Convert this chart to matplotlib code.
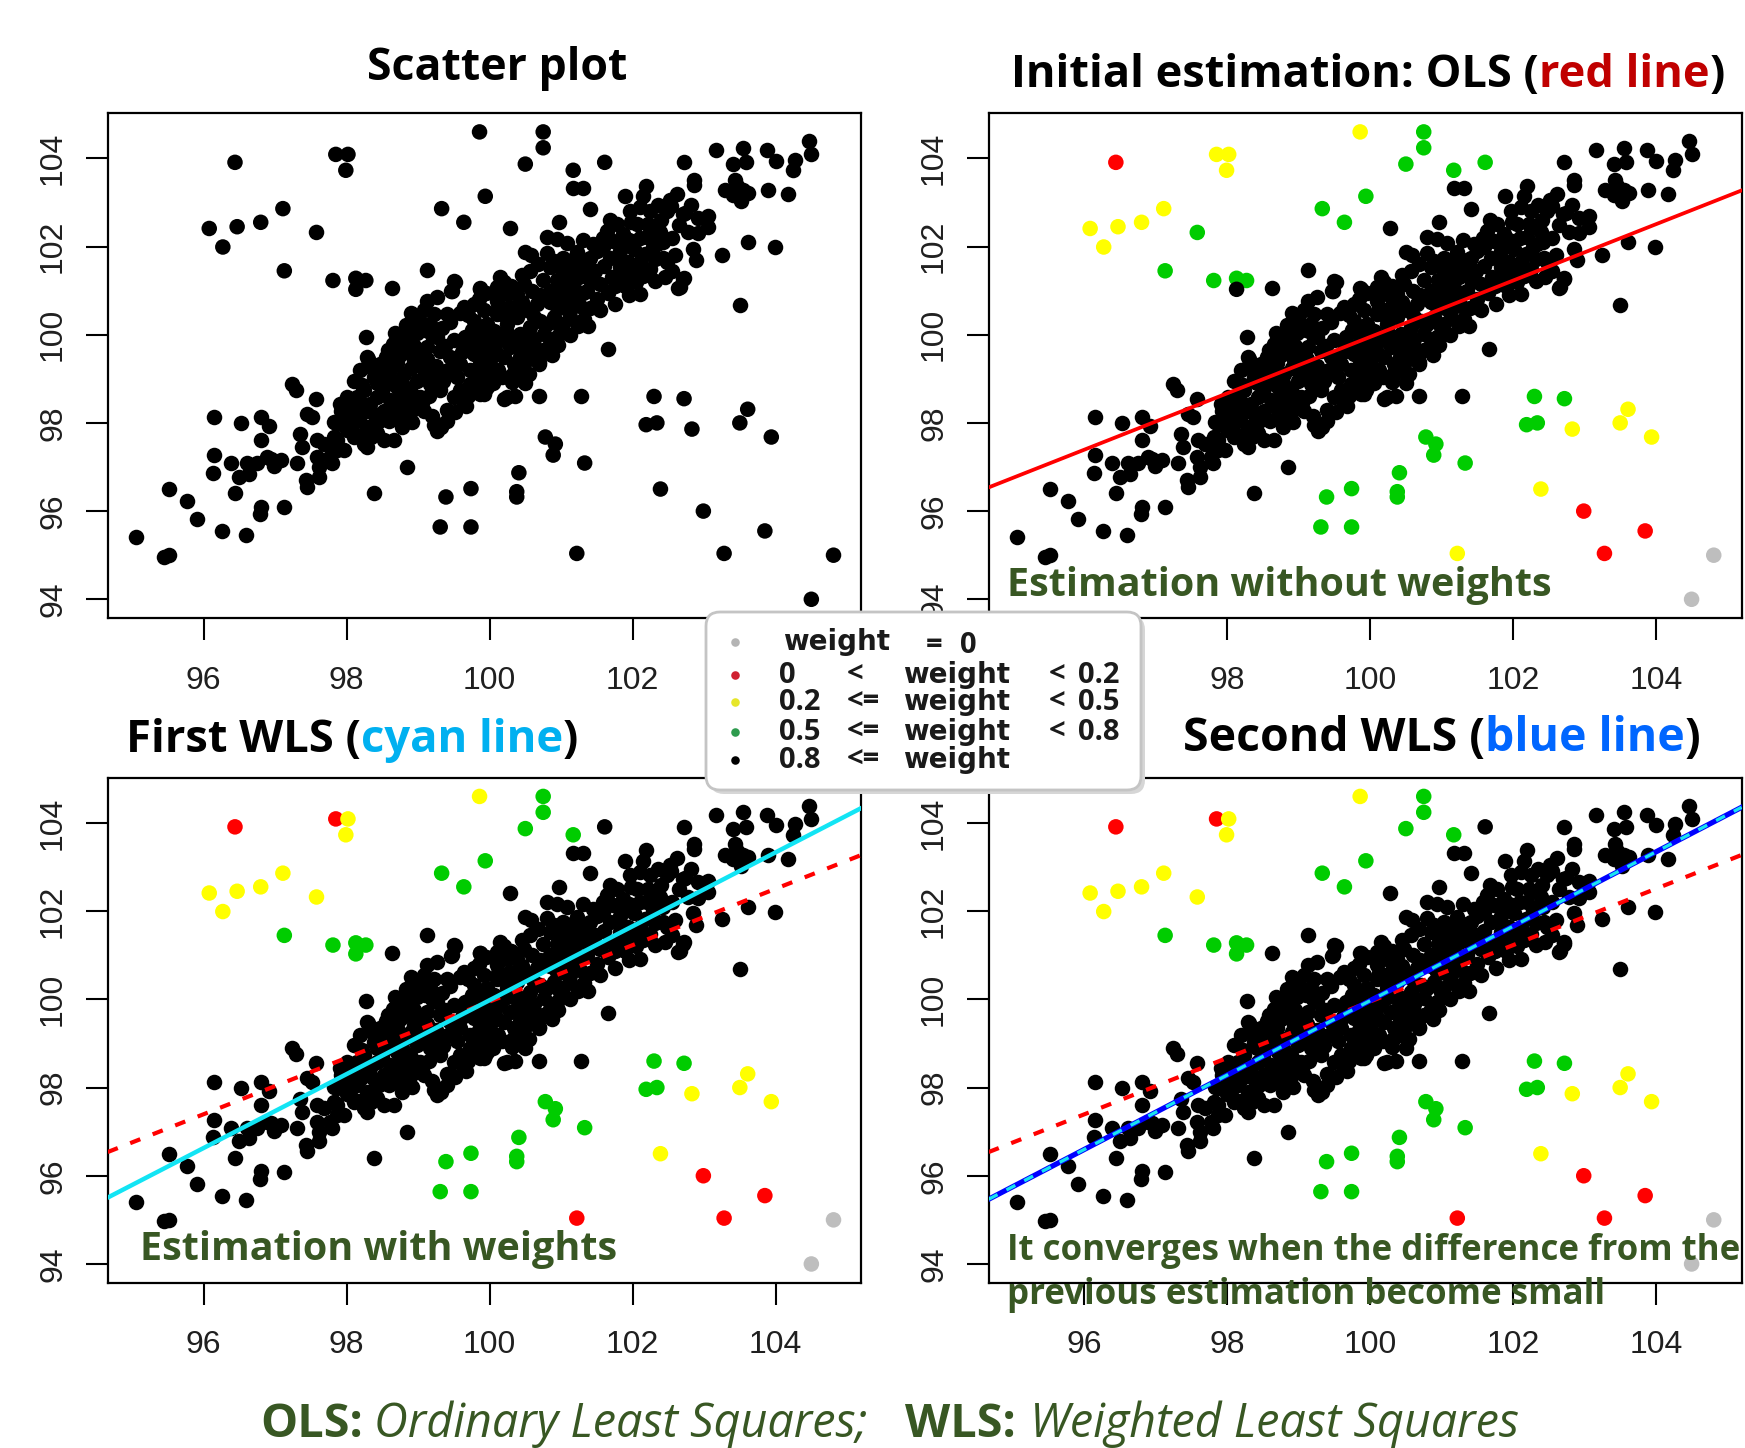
import numpy as np
import matplotlib
matplotlib.use("Agg")
import matplotlib.pyplot as plt
from matplotlib import font_manager
from matplotlib.patches import FancyBboxPatch

W, H, DPI = 1745, 1448, 100

# ---- points; the same data set is used in all four panels ----
# points that are black (weight >= 0.8) in every panel, grouped by region
lower_left = [(95.05, 95.41), (95.45, 94.97), (95.52, 95.00), (95.52, 96.50), (95.77, 96.22),
              (95.91, 95.82), (96.26, 95.54), (96.60, 95.45), (96.44, 96.40), (96.80, 96.10),
              (96.79, 95.93), (97.13, 96.09), (96.15, 98.13), (96.15, 97.27), (96.13, 96.87),
              (96.52, 98.00), (96.80, 98.13), (96.92, 97.92), (96.80, 97.61), (96.38, 97.09),
              (96.50, 96.78), (96.61, 97.08), (96.64, 96.85), (96.75, 97.08), (96.94, 97.19),
              (96.99, 97.02), (97.08, 97.15), (96.89, 97.23), (97.24, 98.89), (97.29, 98.75),
              (97.57, 98.55), (97.45, 98.21), (97.52, 98.13), (97.35, 97.74), (97.38, 97.45),
              (97.31, 97.08), (97.59, 97.61), (97.69, 97.53), (97.58, 97.23), (97.62, 97.00),
              (97.62, 96.78), (97.45, 96.55), (97.44, 96.70), (98.85, 97.00), (98.38, 96.40)]
band_low = [(97.83, 98.02), (97.92, 98.28), (97.87, 97.61), (97.80, 97.08), (97.97, 97.38),
            (98.01, 98.59), (98.10, 98.44), (98.20, 98.21), (98.10, 97.68), (98.24, 97.53),
            (98.34, 97.91), (98.52, 97.61), (98.66, 97.61), (98.29, 97.45), (98.92, 98.02),
            (99.22, 97.95), (99.32, 97.91), (99.27, 97.82), (98.00, 97.85), (98.18, 97.70),
            (98.34, 97.68), (97.91, 98.44), (97.96, 98.13), (98.10, 98.06), (98.29, 97.91),
            (98.43, 97.76), (98.05, 97.83), (97.87, 97.98), (97.82, 97.68), (97.87, 97.38),
            (97.77, 97.23), (98.29, 99.49), (98.47, 99.34), (98.61, 99.19), (98.80, 99.11),
            (98.99, 98.96), (99.03, 98.59), (98.89, 98.74), (98.71, 98.81), (98.57, 98.89),
            (98.38, 99.04), (98.19, 99.19), (98.10, 98.96), (98.24, 98.74), (98.43, 98.59),
            (98.61, 98.51), (98.85, 98.44), (99.08, 98.28), (99.26, 97.98), (98.89, 98.06),
            (98.71, 98.13), (98.52, 98.28), (98.33, 98.44), (98.15, 98.59), (98.27, 99.96),
            (98.65, 99.79), (98.30, 99.46), (98.83, 100.23)]
band_mid = [(99.26, 99.94), (99.13, 99.72), (99.31, 99.64), (99.45, 99.49), (99.59, 99.34),
            (99.73, 99.19), (99.87, 99.04), (99.96, 98.81), (99.87, 98.66), (99.73, 98.89),
            (99.59, 98.74), (99.64, 98.44), (99.50, 98.59), (99.31, 98.74), (99.17, 98.89),
            (99.08, 99.19), (98.94, 99.42), (99.03, 99.57), (98.85, 99.64), (98.71, 99.79),
            (98.85, 99.94), (99.92, 98.66), (100.20, 98.55), (99.67, 98.38),
            (99.13, 100.77), (99.26, 100.85), (99.08, 100.55), (99.22, 100.47), (99.40, 100.47),
            (99.17, 100.25), (99.01, 100.32), (99.64, 100.62), (99.78, 100.70), (99.92, 100.55),
            (100.10, 100.77), (100.24, 100.92), (100.29, 100.62), (100.10, 100.47), (99.96, 100.25),
            (99.78, 100.32), (99.50, 99.87), (99.68, 99.79), (99.87, 99.94), (100.06, 100.09),
            (100.24, 100.25), (100.38, 100.40), (100.52, 100.55), (100.66, 100.70), (100.71, 100.32),
            (100.57, 100.17), (100.43, 100.02), (100.57, 99.87), (100.76, 100.02), (100.94, 99.94),
            (100.99, 100.17), (100.85, 99.79), (100.66, 99.64), (100.48, 99.64), (100.29, 99.72),
            (100.15, 99.87), (99.96, 99.72), (99.78, 99.57), (100.01, 99.42), (100.20, 99.49),
            (100.34, 99.34), (100.31, 99.08), (100.31, 98.93), (100.69, 99.38), (101.03, 100.25),
            (101.13, 100.40), (101.24, 100.19), (100.93, 99.89), (100.96, 99.76),
            (99.87, 101.04), (99.50, 101.23), (99.48, 101.00), (99.46, 100.99), (99.52, 101.20),
            (99.86, 101.05), (99.13, 101.46), (98.63, 101.05), (100.69, 99.34), (100.34, 99.12),
            (100.24, 98.59), (100.36, 98.60), (99.94, 98.74), (100.69, 98.60), (101.28, 98.60)]
band_high = [(100.80, 102.21), (100.94, 102.17), (101.08, 102.09), (101.22, 101.87), (101.03, 101.75),
             (100.90, 101.68), (100.85, 101.53), (101.03, 101.45), (101.22, 101.53), (101.36, 101.45),
             (101.13, 101.15), (100.99, 101.08), (100.85, 101.00), (101.03, 100.85), (101.22, 100.85),
             (101.36, 101.00), (101.50, 100.81), (101.27, 100.66), (101.13, 100.55), (101.32, 100.36),
             (100.94, 100.62), (100.76, 100.85), (100.57, 101.45), (100.48, 101.15), (100.38, 100.92),
             (100.15, 101.30), (100.10, 101.08),
             (101.64, 102.36), (101.78, 102.51), (101.97, 102.81), (102.11, 102.89), (102.25, 102.81),
             (102.22, 102.51), (102.06, 102.51), (101.87, 102.28), (101.73, 102.13), (101.59, 101.98),
             (101.50, 101.90), (101.41, 101.75), (101.69, 101.75), (101.83, 101.90), (102.20, 102.21),
             (102.34, 102.06), (102.43, 101.75), (102.48, 101.64), (102.32, 101.72), (102.18, 101.83),
             (102.11, 101.64), (102.25, 101.49), (102.15, 101.34), (102.32, 101.23), (101.94, 101.64),
             (101.83, 101.53), (101.71, 101.30), (101.87, 101.26), (102.01, 101.45), (102.25, 102.43),
             (102.39, 102.32), (102.48, 102.81), (102.74, 102.75), (102.64, 101.07), (102.71, 101.26),
             (102.11, 100.92), (101.90, 101.10), (101.66, 99.68), (100.28, 102.41), (100.97, 102.55),
             (100.50, 101.87)]
upper_right = [(101.17, 103.32), (101.31, 103.32), (101.41, 102.86), (101.89, 103.14), (102.19, 103.38),
               (102.15, 103.14), (102.52, 103.05), (102.54, 102.92), (102.72, 103.91), (102.86, 103.52),
               (102.86, 103.40), (103.16, 104.18), (103.55, 104.24), (103.41, 103.87), (103.58, 103.91),
               (103.88, 104.18), (104.00, 103.95), (104.27, 103.97), (104.24, 103.73), (104.47, 104.39),
               (104.50, 104.09), (103.29, 103.28), (103.43, 103.52), (103.55, 103.28), (103.62, 103.22),
               (103.52, 103.03), (103.41, 103.18), (103.46, 103.37), (103.89, 103.28), (104.17, 103.19),
               (102.70, 102.73), (102.92, 102.65), (103.06, 102.69), (103.06, 102.44), (102.78, 102.33),
               (103.61, 102.10), (103.99, 101.99), (103.25, 101.81), (102.89, 101.69), (102.72, 101.29),
               (102.66, 101.09), (103.50, 100.68)]
# extra points inside the dense part of the band
band_fill = [(97.95, 98.25), (98.05, 98.35), (98.15, 98.05), (98.22, 98.85), (98.28, 98.30),
             (98.38, 98.20), (98.45, 98.05), (98.42, 98.90), (98.50, 98.70), (98.36, 99.25),
             (98.55, 99.50), (98.48, 99.05), (98.18, 98.50), (98.02, 98.15),
             (98.60, 98.05), (98.68, 98.35), (98.75, 98.60), (98.62, 98.98), (98.78, 98.90),
             (98.92, 98.30), (98.82, 98.20), (98.95, 98.60), (98.70, 99.35), (98.90, 99.25),
             (98.95, 99.75), (98.75, 99.55), (98.58, 99.65), (98.68, 100.05), (98.98, 100.05),
             (98.90, 100.50), (98.78, 97.90),
             (99.05, 98.45), (99.15, 98.60), (99.20, 98.15), (99.40, 98.30), (99.35, 98.95),
             (99.42, 99.20), (99.25, 99.30), (99.12, 99.45), (99.38, 99.75), (99.20, 100.00),
             (99.33, 100.15), (99.45, 100.30), (99.10, 100.10), (99.40, 98.05), (99.28, 99.05),
             (99.15, 99.05),
             (99.55, 99.05), (99.62, 99.60), (99.70, 98.60), (99.80, 98.80), (99.85, 99.30),
             (99.95, 99.15), (99.66, 99.95), (99.75, 100.10), (99.58, 100.50), (99.70, 100.45),
             (99.85, 100.80), (99.95, 100.95), (99.90, 100.15), (99.52, 98.25), (99.80, 99.75),
             (99.92, 99.50),
             (100.05, 98.90), (100.12, 99.20), (100.18, 99.05), (100.08, 99.65), (100.25, 100.05),
             (100.40, 99.85), (100.42, 99.50), (100.45, 99.20), (100.35, 100.55), (100.20, 100.45),
             (100.45, 100.75), (100.05, 100.95), (100.30, 101.10), (100.20, 101.20), (100.45, 101.35),
             (100.12, 100.60), (100.02, 99.95), (100.50, 98.90),
             (100.55, 99.45), (100.62, 99.90), (100.75, 99.65), (100.80, 100.25), (100.90, 100.40),
             (100.62, 100.40), (100.70, 100.90), (100.60, 101.00), (100.75, 101.25), (100.85, 100.75),
             (100.95, 101.25), (100.68, 101.60), (100.58, 101.80), (100.80, 101.85), (100.88, 99.55),
             (100.55, 99.10), (100.98, 100.95),
             (101.05, 100.60), (101.12, 100.00), (101.18, 101.05), (101.25, 101.30), (101.30, 100.95),
             (101.10, 101.30), (101.40, 100.60), (101.42, 101.20), (101.35, 101.70), (101.15, 101.70),
             (101.45, 102.05), (101.30, 102.15), (101.08, 100.80), (101.38, 100.20), (101.48, 101.45),
             (101.55, 101.15), (101.60, 101.55), (101.65, 100.95), (101.75, 101.10), (101.80, 101.75),
             (101.58, 102.20), (101.68, 102.60), (101.85, 102.05), (101.95, 102.15), (101.98, 102.55),
             (101.90, 101.40), (101.95, 100.90), (101.55, 100.55), (101.76, 100.70),
             (102.05, 101.20), (102.10, 102.20), (102.28, 102.00), (102.42, 102.10), (102.55, 102.20),
             (102.60, 101.80), (102.65, 102.50), (102.40, 102.60), (102.55, 101.45), (102.45, 101.30),
             (102.35, 102.95), (102.62, 103.20), (102.82, 102.95), (102.92, 102.30), (102.85, 101.95),
             (102.02, 101.95)]

# outlying points, with their weight class after OLS and after WLS
# class: 0 weight=0, 1 (0,0.2), 2 [0.2,0.5), 3 [0.5,0.8), 4 >=0.8
out_x = [96.44, 97.85, 98.02, 97.99, 96.08, 96.47, 96.27, 96.80, 97.11, 97.58,
         97.13, 97.81, 98.13, 98.27, 98.13, 99.33, 99.64, 99.94, 99.86, 100.50,
         100.75, 100.75, 101.17, 101.61, 102.30, 102.72, 102.19, 102.34, 102.83, 103.61,
         103.50, 103.94, 102.39, 102.99, 103.85, 103.28, 101.22, 104.81, 104.50, 100.78,
         100.92, 100.89, 101.33, 100.41, 100.38, 100.38, 99.74, 99.39, 99.31, 99.74]
out_y = [103.91, 104.09, 104.09, 103.73, 102.41, 102.45, 101.99, 102.55, 102.86, 102.32,
         101.45, 101.23, 101.28, 101.23, 101.03, 102.86, 102.55, 103.14, 104.60, 103.87,
         104.60, 104.24, 103.73, 103.91, 98.60, 98.55, 97.96, 98.00, 97.86, 98.31,
         98.00, 97.68, 96.50, 96.00, 95.55, 95.04, 95.04, 95.00, 94.00, 97.68,
         97.52, 97.27, 97.09, 96.87, 96.44, 96.32, 96.51, 96.32, 95.64, 95.64]
ols_cls = [1, 2, 2, 2, 2, 2, 2, 2, 2, 3,
           3, 3, 3, 3, 4, 3, 3, 3, 2, 3,
           3, 3, 3, 3, 3, 3, 3, 3, 2, 2,
           2, 2, 2, 1, 1, 1, 2, 0, 0, 3,
           3, 3, 3, 3, 3, 3, 3, 3, 3, 3]
wls_cls = [1, 1, 2, 2, 2, 2, 2, 2, 2, 2,
           3, 3, 3, 3, 3, 3, 3, 3, 2, 3,
           3, 3, 3, 4, 3, 3, 3, 3, 2, 2,
           2, 2, 2, 1, 1, 1, 1, 0, 0, 3,
           3, 3, 3, 3, 3, 3, 3, 3, 3, 3]

# fitted lines as (value at x = 100, slope)
ols_line = (99.95, 0.639)
wls1_line = (99.98, 0.838)
wls2_line = (99.97, 0.843)

XTICKS = [96, 98, 100, 102, 104]
YTICKS = [94, 96, 98, 100, 102, 104]
# the legend hides the last x label on the left and the first on the right
XLAB_LEFT = ["96", "98", "100", "102", ""]
XLAB_RIGHT = ["", "98", "100", "102", "104"]
XLIM, YLIM = (94.66, 105.20), (93.58, 105.02)

CLS_COL = ["#BEBEBE", "#FF0000", "#FFFF00", "#00CC00", "#000000"]

# legend rows
leg_dot = ["#B4B4B4", "#D02030", "#E6E62A", "#2E9B4E", "#000000"]
leg_lo = ["", "0", "0.2", "0.5", "0.8"]
leg_op = ["", "<", "<=", "<=", "<="]
leg_hi = ["", "0.2", "0.5", "0.8", ""]

GREEN_TXT = "#385723"

ents = font_manager.fontManager.ttflist
names = {f.name for f in ents}
if "Noto Sans Condensed" in names:
    SEG = dict(family="Noto Sans Condensed")
elif any(f.name == "Noto Sans" and f.stretch == "condensed" for f in ents):
    SEG = dict(family="Noto Sans", stretch="condensed")
elif any(f.name == "Noto Sans" and f.stretch == "semi-condensed" for f in ents):
    SEG = dict(family="Noto Sans", stretch="semi-condensed")
else:
    SEG = dict(family="Open Sans")
TICKF = "Liberation Sans" if "Liberation Sans" in names else "DejaVu Sans"

core = lower_left + band_low + band_mid + band_high + upper_right + band_fill
core_x = [p[0] for p in core]
core_y = [p[1] for p in core]

fig = plt.figure(figsize=(W / DPI, H / DPI), dpi=DPI)
R = fig.canvas.get_renderer()
DOT = 125


def px_axes(l, t, r, b, **kw):
    return fig.add_axes([l / W, 1 - b / H, (r - l) / W, (b - t) / H], **kw)


def style(ax, xlabels):
    ax.set_xlim(*XLIM)
    ax.set_ylim(*YLIM)
    ax.set_xticks(XTICKS, xlabels)
    ax.set_yticks(YTICKS)
    ax.tick_params(direction="out", length=15.5, width=1.5, labelsize=23,
                   labelcolor="#1f1f1f")
    ax.tick_params(axis="x", pad=19)
    ax.tick_params(axis="y", pad=13, labelrotation=90)
    for lab in ax.get_xticklabels() + ax.get_yticklabels():
        lab.set_family(TICKF)
    plt.setp(ax.get_yticklabels(), va="center")
    for s in ax.spines.values():
        s.set_linewidth(1.6)


def draw_points(ax, cls=None):
    ax.scatter(core_x, core_y, s=DOT, c="black", linewidths=0, zorder=2)
    cols = ["black"] * len(out_x) if cls is None else [CLS_COL[c] for c in cls]
    ax.scatter(out_x, out_y, s=DOT, c=cols, linewidths=0, zorder=2)


def fit_line(ax, coef, **kw):
    xs = np.array(XLIM)
    ax.plot(xs, coef[0] + coef[1] * (xs - 100), zorder=3, **kw)


def width_of(txt, size, **kw):
    t = fig.text(0, 0, txt, fontsize=size, **kw)
    w = t.get_window_extent(renderer=R).width
    t.remove()
    return w


def fit_size(txt, target, **kw):
    return 20 * target / width_of(txt, 20, **kw)


def rich(left, base, parts, size, **kw):
    x = left
    for txt, col in parts:
        t = fig.text(x / W, 1 - base / H, txt, fontsize=size, color=col,
                     ha="left", va="baseline", **kw)
        x += t.get_window_extent(renderer=R).width


TF = dict(weight="bold", **SEG)

# ---- panels ----
ax1 = px_axes(107.7, 113.4, 861.4, 617.8)
style(ax1, XLAB_LEFT)
draw_points(ax1)

ax2 = px_axes(988.7, 113.4, 1741.6, 617.8)
style(ax2, XLAB_RIGHT)
draw_points(ax2, ols_cls)
fit_line(ax2, ols_line, color="#FF0000", lw=2.7)

ax3 = px_axes(107.7, 777.9, 861.4, 1282.5)
style(ax3, XLAB_LEFT[:4] + ["104"])
draw_points(ax3, wls_cls)
fit_line(ax3, ols_line, color="#FF0000", lw=3, dashes=(2.6, 3.2))
fit_line(ax3, wls1_line, color="#12E4F4", lw=3.2)

ax4 = px_axes(988.7, 777.9, 1741.6, 1282.5)
style(ax4, ["96"] + XLAB_RIGHT[1:])
draw_points(ax4, wls_cls)
fit_line(ax4, ols_line, color="#FF0000", lw=3, dashes=(2.6, 3.2))
fit_line(ax4, wls2_line, color="#0000FF", lw=3.8)
fit_line(ax4, wls2_line, color="#19E3F0", lw=2.4, dashes=(3, 3))

# ---- titles ----
s = fit_size("Scatter plot", 260, **TF)
rich(367, 80, [("Scatter plot", "black")], s, **TF)
s = fit_size("Initial estimation: OLS (red line)", 714, **TF)
rich(1011, 87, [("Initial estimation: OLS (", "black"), ("red line", "#C00000"), (")", "black")], s, **TF)
s = fit_size("First WLS (cyan line)", 453, **TF)
rich(126, 752, [("First WLS (", "black"), ("cyan line", "#00B0F0"), (")", "black")], s, **TF)
s = fit_size("Second WLS (blue line)", 517, **TF)
rich(1183, 751, [("Second WLS (", "black"), ("blue line", "#0066FF"), (")", "black")], s, **TF)

# ---- notes inside the panels ----
s = fit_size("Estimation without weights", 545, **TF)
rich(1007, 596, [("Estimation without weights", GREEN_TXT)], s, **TF)
s = fit_size("Estimation with weights", 477, **TF)
rich(140, 1260, [("Estimation with weights", GREEN_TXT)], s, **TF)
s = fit_size("previous estimation become small", 596, **TF)
rich(1007, 1260, [("It converges when the difference from the", GREEN_TXT)], s, **TF)
rich(1007, 1304, [("previous estimation become small", GREEN_TXT)], s, **TF)

# ---- caption ----
s = fit_size("Ordinary Least Squares;", 494, style="italic", **SEG)
for left, txt, kw in [(260, "OLS:", dict(weight="bold")),
                      (374, "Ordinary Least Squares;", dict(style="italic")),
                      (905, "WLS:", dict(weight="bold")),
                      (1030, "Weighted Least Squares", dict(style="italic"))]:
    rich(left, 1437, [(txt, GREEN_TXT)], s, **SEG, **kw)

# ---- legend box ----
lg = px_axes(704, 610, 1147, 795, zorder=10)
lg.set_xlim(0, 443)
lg.set_ylim(0, 185)
lg.axis("off")
lg.add_patch(FancyBboxPatch((6, 1), 435, 178, boxstyle="round,pad=0,rounding_size=14",
                            fc="#d6d6d6", ec="none"))
lg.add_patch(FancyBboxPatch((2, 5), 435, 178, boxstyle="round,pad=0,rounding_size=14",
                            fc="white", ec="#c4c4c4", lw=2))
LT = dict(fontsize=21, weight="bold", color="#1a1a1a", va="center", **SEG)
LW = dict(fontsize=20, family="DejaVu Sans", weight="bold", color="#1a1a1a", va="center")
row_y = [153, 120, 93, 63, 35]
for i, y in enumerate(row_y):
    lg.scatter([31], [y], s=38, c=leg_dot[i], linewidths=0)
    if i == 0:
        lg.text(79, y, "weight", **LW)
        lg.text(222, y - 3, "=", **LT)
        lg.text(256, y - 3, "0", **LT)
        continue
    lg.text(75, y, leg_lo[i], **LT)
    lg.text(143, y, leg_op[i], **LT)
    lg.text(199, y, "weight", **LW)
    if leg_hi[i]:
        lg.text(345, y, "<", **LT)
        lg.text(374, y, leg_hi[i], **LT)

fig.savefig("out.png", dpi=DPI)
